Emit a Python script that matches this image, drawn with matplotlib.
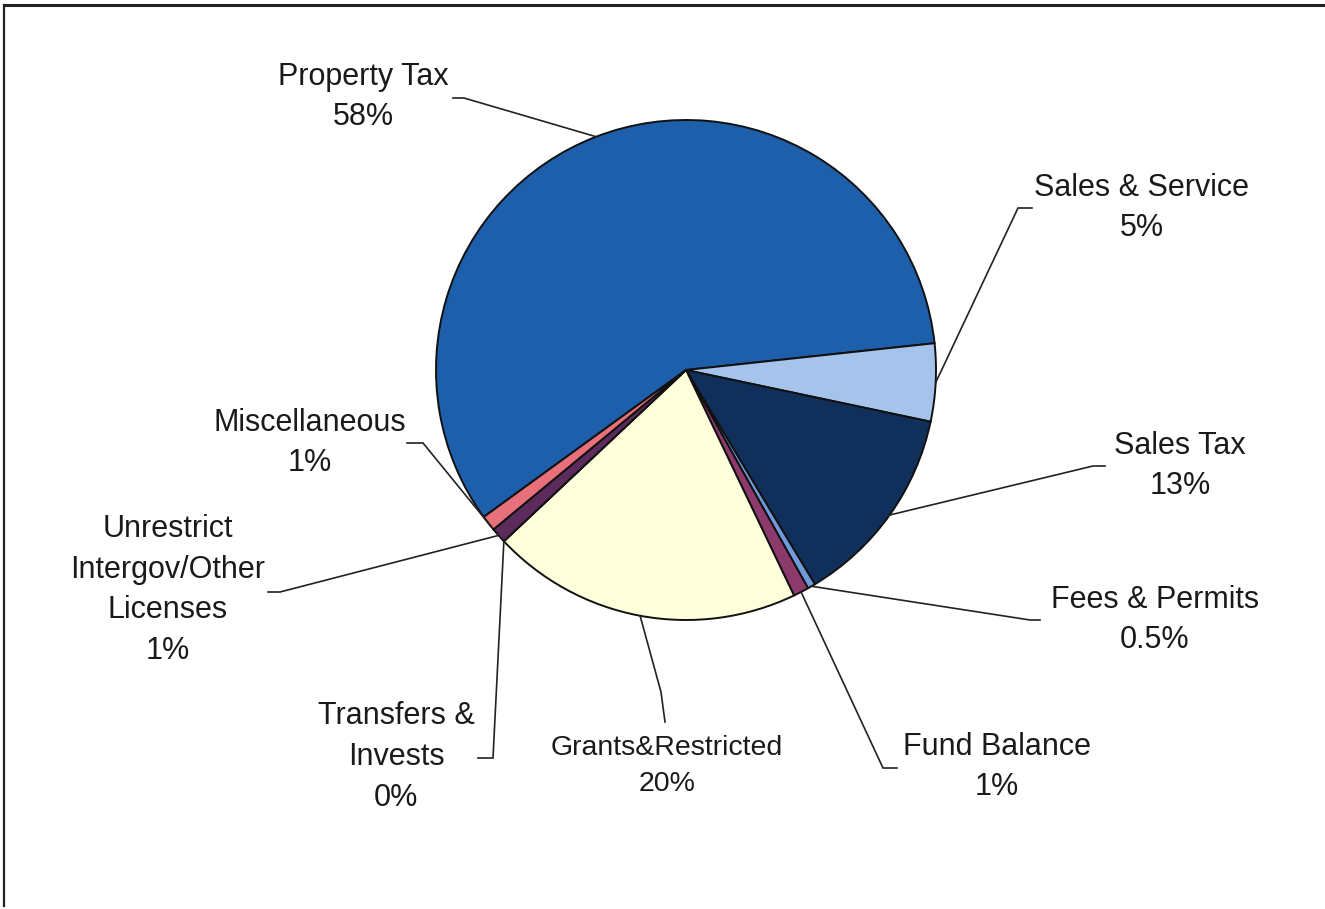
import numpy as np
import matplotlib.pyplot as plt

# Revenue sources (percent of total)
categories = [
    "Property Tax", "Sales & Service", "Sales Tax", "Fees & Permits",
    "Fund Balance", "Grants&Restricted", "Transfers &\nInvests",
    "Unrestrict\nIntergov/Other\nLicenses", "Miscellaneous",
]
shares = [58, 5, 13, 0.5, 1, 20, 0, 1, 1]
share_labels = ["58%", "5%", "13%", "0.5%", "1%", "20%", "0%", "1%", "1%"]
colors = [
    "#1d5fab", "#a6c3ec", "#10305b", "#6f9bdd", "#8c3a6c",
    "#ffffdc", "#663366", "#5c2a5c", "#e8707a",
]

W, H = 1325, 909
CENTER = (686, 370)   # pixels from top-left
RADIUS = 250
FIRST_EDGE = 6.15     # angle where Property Tax meets Sales & Service

# label block centre, leader elbow and leader end (pixels from top-left)
label_pos = [(363, 97), (1142, 208), (1180, 466), (1155, 620), (997, 767),
             (667, 766), (396, 757), (168, 590), (310, 443)]
elbows = [(464, 98), (1018, 208), (1093, 466), (1030, 620), (883, 768),
          (661, 692), (493, 758), (280, 592), (423, 443)]
ends = [(453, 98), (1032, 208), (1105, 466), (1040, 620), (897, 768),
        (665, 722), (478, 758), (268, 592), (407, 443)]


def to_data(pt):
    """Convert a top-left pixel position into axes data coordinates."""
    return pt[0], H - pt[1]


def main():
    plt.rcParams["font.family"] = ["Liberation Sans", "DejaVu Sans"]

    fig = plt.figure(figsize=(W / 100, H / 100), dpi=100)
    ax = fig.add_axes([0, 0, 1, 1])

    total = sum(shares)
    start = FIRST_EDGE + 360 * shares[0] / total

    wedges, _ = ax.pie(
        shares,
        colors=colors,
        startangle=start,
        counterclock=False,
        center=to_data(CENTER),
        radius=RADIUS,
        wedgeprops=dict(edgecolor="#111111", linewidth=1.4),
        frame=True,
    )
    ax.set_xlim(0, W)
    ax.set_ylim(0, H)
    ax.set_aspect("equal")
    ax.axis("off")

    cx, cy = to_data(CENTER)
    for i, wedge in enumerate(wedges):
        mid = np.deg2rad((wedge.theta1 + wedge.theta2) / 2)
        px = cx + RADIUS * np.cos(mid)
        py = cy + RADIUS * np.sin(mid)
        ex, ey = to_data(elbows[i])
        fx, fy = to_data(ends[i])
        ax.plot([px, ex, fx], [py, ey, fy], color="#222222", lw=1.2,
                solid_joinstyle="miter")

        tx, ty = to_data(label_pos[i])
        size = 20.5 if categories[i].startswith("Grants") else 22
        ax.text(tx, ty, f"{categories[i]}\n{share_labels[i]}",
                ha="center", va="center", fontsize=size,
                linespacing=1.47, color="#1a1a1a")

    # page frame (top and left rules)
    ax.plot([4, W], [H - 5, H - 5], color="#222222", lw=2.2)
    ax.plot([4, 4], [H - 5, 3], color="#222222", lw=1.6)

    fig.savefig("out.png", dpi=100)


if __name__ == "__main__":
    main()
